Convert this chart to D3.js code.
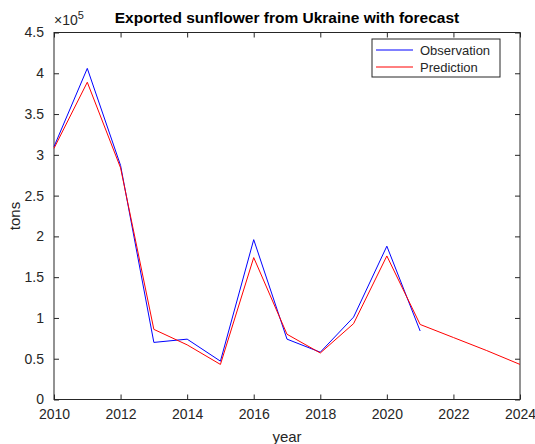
<!DOCTYPE html>
<html>
<head>
<meta charset="utf-8">
<script src="https://cdn.jsdelivr.net/npm/d3@7"></script>
<style>
  html, body { margin: 0; padding: 0; background: #fff; }
  svg { display: block; font-family: "Liberation Sans", Arial, sans-serif; }
</style>
</head>
<body>
<svg id="chart" width="535" height="444"></svg>
<script>
// Export volumes (tons, in units of 1e5)
const obsYears = [2010, 2011, 2012, 2013, 2014, 2015, 2016, 2017, 2018, 2019, 2020, 2021];
const obsValues = [3.1, 4.06, 2.87, 0.70, 0.74, 0.47, 1.96, 0.74, 0.58, 1.01, 1.88, 0.84];
const predYears = [2010, 2011, 2012, 2013, 2014, 2015, 2016, 2017, 2018, 2019, 2020, 2021, 2022, 2023, 2024];
const predValues = [3.08, 3.89, 2.84, 0.86, 0.67, 0.43, 1.74, 0.80, 0.57, 0.93, 1.76, 0.92, 0.76, 0.60, 0.43];
const xTicks = [2010, 2012, 2014, 2016, 2018, 2020, 2022, 2024];
const yTicks = [0, 0.5, 1, 1.5, 2, 2.5, 3, 3.5, 4, 4.5];
const seriesNames = ["Observation", "Prediction"];
const seriesColors = ["#0000ff", "#ff0000"];

const svg = d3.select("#chart");
const plotL = 54, plotR = 520, plotT = 32.5, plotB = 399.5;
const axisColor = "#262626";

const x = d3.scaleLinear().domain([2010, 2024]).range([plotL, plotR]);
const y = d3.scaleLinear().domain([0, 4.5]).range([plotB, plotT]);

const tickLen = 5;
const fmt = d => String(d);

// Bottom axis with labels, top axis without
svg.append("g").attr("transform", `translate(0,${plotB})`)
  .call(d3.axisBottom(x).tickValues(xTicks).tickFormat(d3.format("d")).tickSizeInner(-tickLen).tickSizeOuter(0).tickPadding(10))
  .call(g => g.select(".domain").remove());
svg.append("g").attr("transform", `translate(0,${plotT})`)
  .call(d3.axisTop(x).tickValues(xTicks).tickFormat("").tickSizeInner(-tickLen).tickSizeOuter(0))
  .call(g => g.select(".domain").remove());
svg.append("g").attr("transform", `translate(${plotL},0)`)
  .call(d3.axisLeft(y).tickValues(yTicks).tickFormat(fmt).tickSizeInner(-tickLen).tickSizeOuter(0).tickPadding(10))
  .call(g => g.select(".domain").remove());
svg.append("g").attr("transform", `translate(${plotR},0)`)
  .call(d3.axisRight(y).tickValues(yTicks).tickFormat("").tickSizeInner(-tickLen).tickSizeOuter(0))
  .call(g => g.select(".domain").remove());

svg.selectAll(".tick line").attr("stroke", axisColor).attr("stroke-width", 1);
svg.selectAll(".tick text").attr("fill", axisColor).attr("font-size", 14)
  .attr("font-family", "Liberation Sans, Arial, sans-serif");

// Box
svg.append("rect")
  .attr("x", plotL).attr("y", plotT)
  .attr("width", plotR - plotL).attr("height", plotB - plotT)
  .attr("fill", "none").attr("stroke", axisColor).attr("stroke-width", 1);

// Lines
const line = d3.line().x(d => x(d[0])).y(d => y(d[1]));
const obs = obsYears.map((yr, i) => [yr, obsValues[i]]);
const pred = predYears.map((yr, i) => [yr, predValues[i]]);

svg.append("path").datum(obs).attr("d", line)
  .attr("fill", "none").attr("stroke", seriesColors[0]).attr("stroke-width", 1);
svg.append("path").datum(pred).attr("d", line)
  .attr("fill", "none").attr("stroke", seriesColors[1]).attr("stroke-width", 1);

// Exponent label
const expo = svg.append("text").attr("x", plotL).attr("y", 25)
  .attr("fill", axisColor).attr("font-size", 14);
expo.append("tspan").text("×10");
expo.append("tspan").attr("dy", -6).attr("font-size", 11).text("5");

// Title
svg.append("text").attr("x", (plotL + plotR) / 2).attr("y", 23)
  .attr("text-anchor", "middle").attr("font-weight", "bold")
  .attr("font-size", 15.5).attr("fill", "#000")
  .text("Exported sunflower from Ukraine with forecast");

// Axis titles
svg.append("text").attr("x", (plotL + plotR) / 2).attr("y", 442)
  .attr("text-anchor", "middle").attr("font-size", 15).attr("fill", axisColor)
  .text("year");
svg.append("text").attr("transform", `translate(20,${(plotT + plotB) / 2}) rotate(-90)`)
  .attr("text-anchor", "middle").attr("font-size", 15).attr("fill", axisColor)
  .text("tons");

// Legend
const lg = svg.append("g").attr("transform", "translate(372,39)");
lg.append("rect").attr("width", 128).attr("height", 38)
  .attr("fill", "#fff").attr("stroke", axisColor).attr("stroke-width", 1);
seriesNames.forEach((name, i) => {
  const yy = 11 + i * 17;
  lg.append("line").attr("x1", 4).attr("x2", 41).attr("y1", yy).attr("y2", yy)
    .attr("stroke", seriesColors[i]).attr("stroke-width", 1);
  lg.append("text").attr("x", 48).attr("y", yy + 4.5)
    .attr("font-size", 13).attr("fill", axisColor).text(name);
});
</script>
</body>
</html>
